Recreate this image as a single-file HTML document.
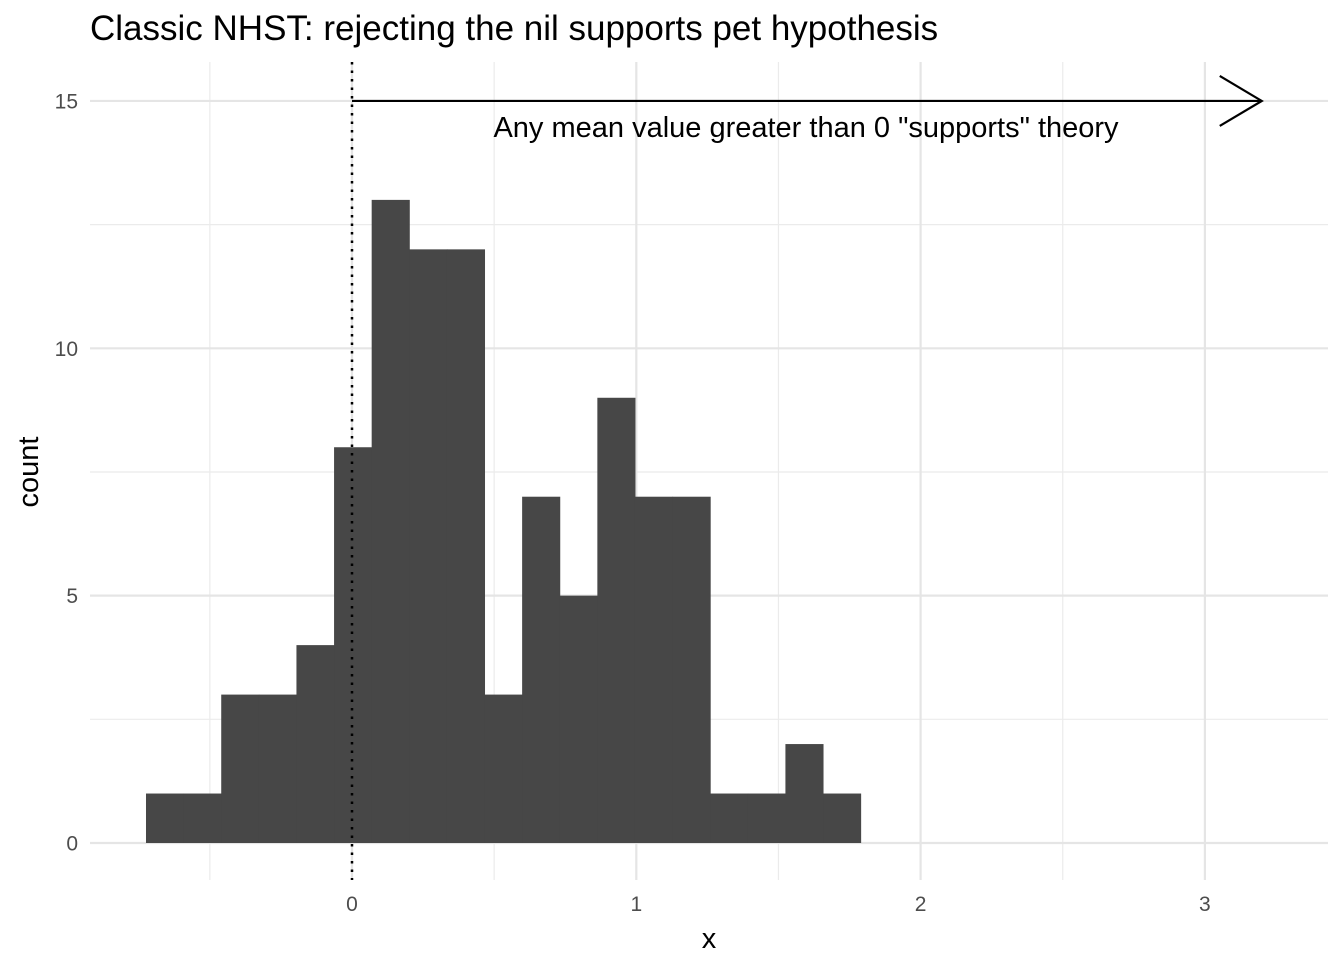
<!DOCTYPE html>
<html><head><meta charset="utf-8"><style>
body{margin:0;background:#fff;font-family:"Liberation Sans",Arial,sans-serif}
</style></head><body>
<svg width="1344" height="960" xmlns="http://www.w3.org/2000/svg">
<text x="90" y="40" font-size="35" fill="#000">Classic NHST: rejecting the nil supports pet hypothesis</text>
<g id="grid"></g>
<g id="bars"></g>
<g id="axes"></g>
<text x="709" y="948" font-size="29" text-anchor="middle">x</text>
<text transform="translate(38,472) rotate(-90)" font-size="29" text-anchor="middle">count</text>
</svg>
<script>
const binStart = -0.7246;
const binWidth = 0.1323;
const counts = [1,1,3,3,4,8,13,12,12,3,7,5,9,7,7,1,1,2,1];
const xTicks = [0,1,2,3];
const yTicks = [0,5,10,15];
const xMinor = [-0.5,0.5,1.5,2.5];
const yMinor = [2.5,7.5,12.5];
const arrowEnd = 3.2;
const arrowY = 15;
const ns="http://www.w3.org/2000/svg";
function X(v){return 352+v*284.3;}
function Y(v){return 843-v*49.47;}
function mk(tag,attrs,parent){const e=document.createElementNS(ns,tag);for(const k in attrs)e.setAttribute(k,attrs[k]);parent.appendChild(e);return e;}
const grid=document.getElementById('grid'),bars=document.getElementById('bars'),axes=document.getElementById('axes');
const L=90,R=1328,T=62,B=880;
xMinor.forEach(v=>{const l=mk('line',{x1:X(v),x2:X(v),y1:T,y2:B,stroke:'#ebebeb','stroke-width':1.2},grid);

});
yMinor.forEach(v=>{const l=mk('line',{x1:L,x2:R,y1:Y(v),y2:Y(v),stroke:'#ebebeb','stroke-width':1.2},grid);

});
xTicks.forEach(v=>{const l=mk('line',{x1:X(v),x2:X(v),y1:T,y2:B,stroke:'#e5e5e5','stroke-width':2.2},grid);


const t=mk('text',{x:X(v),y:911,'font-size':21,fill:'#4d4d4d','text-anchor':'middle'},axes);t.textContent=v;

});
yTicks.forEach(v=>{const l=mk('line',{x1:L,x2:R,y1:Y(v),y2:Y(v),stroke:'#e5e5e5','stroke-width':2.2},grid);


const t=mk('text',{x:78,y:Y(v)+7.5,'font-size':21,fill:'#4d4d4d','text-anchor':'end'},axes);t.textContent=v;

});
counts.forEach((c,i)=>{const x0=X(binStart+i*binWidth),x1=X(binStart+(i+1)*binWidth);
const r=mk('rect',{x:x0,y:Y(c),width:x1-x0+0.5,height:Y(0)-Y(c),fill:'#474747'},bars);

});
const d=mk('line',{x1:X(0),x2:X(0),y1:T,y2:B,stroke:'#000','stroke-width':2.5,'stroke-dasharray':'2.5,6'},axes);


const a=mk('line',{x1:X(0),x2:X(arrowEnd),y1:Y(arrowY),y2:Y(arrowY),stroke:'#000','stroke-width':2.2},axes);


const h=mk('polyline',{points:`${X(arrowEnd)-42},${Y(arrowY)-25} ${X(arrowEnd)},${Y(arrowY)} ${X(arrowEnd)-42},${Y(arrowY)+25}`,fill:'none',stroke:'#000','stroke-width':2.2},axes);


const at=mk('text',{x:806,y:137,'font-size':29,'text-anchor':'middle',fill:'#000'},axes);
at.textContent='Any mean value greater than 0 "supports" theory';


</script>
</body></html>
